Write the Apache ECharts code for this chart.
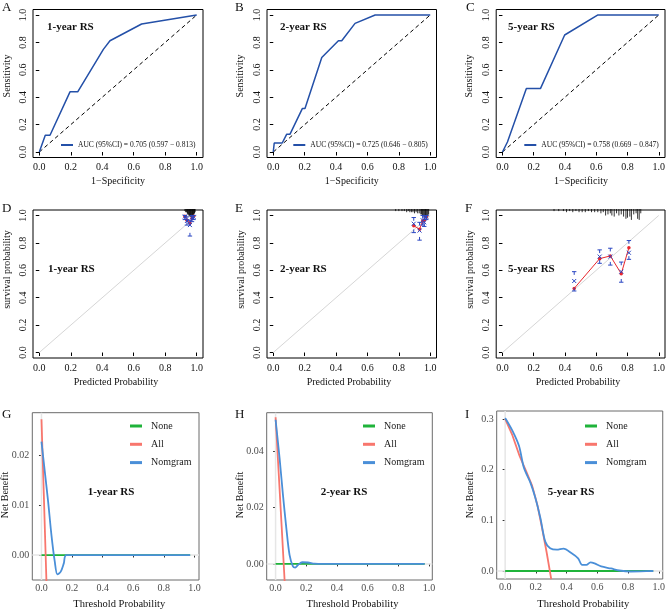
<!DOCTYPE html>
<html><head><meta charset="utf-8">
<script src="https://cdn.jsdelivr.net/npm/echarts@6/dist/echarts.min.js"></script>
<style>html,body{margin:0;padding:0;background:#fff}#c{width:668px;height:611px}</style>
</head><body><div id="c"></div>
<script>
// ---------- DATA ----------
const panelLetters = ['A','B','C','D','E','F','G','H','I'];
const panelTitles = ['1-year RS','2-year RS','5-year RS'];
const unitTicks = [0, 0.2, 0.4, 0.6, 0.8, 1.0];

// ROC curves (1-Specificity, Sensitivity)
const rocA_fpr = [0, 0.038, 0.068, 0.195, 0.244, 0.407, 0.449, 0.65, 1];
const rocA_tpr = [0, 0.122, 0.122, 0.439, 0.439, 0.749, 0.812, 0.934, 1];
const rocB_fpr = [0, 0.006, 0.057, 0.085, 0.106, 0.185, 0.202, 0.309, 0.415, 0.436, 0.521, 0.649, 1];
const rocB_tpr = [0, 0.066, 0.066, 0.129, 0.129, 0.317, 0.317, 0.69, 0.812, 0.812, 0.939, 1, 1];
const rocC_fpr = [0, 0.032, 0.153, 0.243, 0.398, 0.611, 1];
const rocC_tpr = [0, 0.073, 0.463, 0.463, 0.854, 1, 1];
const diagX = [0, 1];
const diagY = [0, 1];
const aucValue = [0.705, 0.725, 0.758];
const aucLower = [0.597, 0.646, 0.669];
const aucUpper = [0.813, 0.805, 0.847];

// Calibration (predicted, observed KM, CI low, CI high, apparent)
const calD_pred = [0.925, 0.938, 0.957, 0.970, 0.980];
const calD_obs  = [0.993, 0.960, 0.930, 0.985, 0.990];
const calD_lo   = [0.970, 0.930, 0.850, 0.955, 0.970];
const calD_hi   = [1.000, 0.990, 0.965, 1.000, 1.000];
const calD_app  = [0.995, 0.965, 0.945, 0.980, 0.995];
const calE_pred = [0.895, 0.932, 0.952, 0.962, 0.975];
const calE_obs  = [0.940, 0.890, 0.965, 0.950, 0.990];
const calE_lo   = [0.875, 0.820, 0.930, 0.920, 0.970];
const calE_hi   = [0.985, 0.950, 1.000, 0.990, 1.000];
const calE_app  = [0.925, 0.900, 0.960, 0.965, 0.990];
const calF_pred = [0.459, 0.622, 0.690, 0.760, 0.809];
const calF_obs  = [0.522, 0.700, 0.700, 0.590, 0.728];
const calF_lo   = [0.449, 0.651, 0.638, 0.513, 0.680];
const calF_hi   = [0.590, 0.749, 0.761, 0.660, 0.817];
const calF_app  = [0.468, 0.685, 0.705, 0.575, 0.765];

// risk distribution spikes (predicted probability, count)
const rugD_x = [0.925,0.93,0.935,0.94,0.943,0.946,0.95,0.953,0.956,0.96,0.963,0.966,0.97,0.973,0.976,0.98,0.983,0.986,0.99];
const rugD_n = [1,2,2,3,4,4,5,5,6,6,6,7,7,6,6,5,4,3,2];
const rugE_x = [0.78,0.8,0.82,0.835,0.85,0.86,0.87,0.88,0.89,0.9,0.91,0.92,0.93,0.94,0.945,0.95,0.955,0.96,0.965,0.97,0.975,0.98,0.985,0.99];
const rugE_n = [1,1,1,1,2,1,2,2,2,3,2,3,3,4,4,5,5,6,7,7,8,7,6,4];
const rugF_x = [0.33,0.36,0.39,0.41,0.43,0.45,0.47,0.49,0.51,0.53,0.55,0.57,0.59,0.61,0.63,0.645,0.66,0.675,0.69,0.7,0.715,0.73,0.745,0.76,0.775,0.79,0.8,0.815,0.825,0.84,0.855,0.865,0.875,0.885];
const rugF_n = [1,1,1,2,1,2,1,2,2,2,1,2,2,2,3,2,5,4,3,5,6,3,5,4,6,8,7,6,9,4,3,8,9,3];

// Decision curves
const dcaNames = ['None','All','Nomgram'];
const dcaG_thr  = [0, 0.0217, 0.0435, 0.0652, 0.087, 0.104, 0.126, 0.146, 0.163, 0.972];
const dcaG_nom  = [0.0227, 0.0167, 0.0107, 0.004, -0.00133, -0.00387, -0.00333, -0.00167, 0, 0];
const dcaG_allX = [0, 0.015, 0.03, 0.04];
const dcaG_all  = [0.0272, 0.0124, -0.0028, -0.013];
const dcaG_noneX = [0, 0.972];
const dcaG_none  = [0, 0];
const dcaH_thr  = [0, 0.026, 0.048, 0.07, 0.091, 0.113, 0.128, 0.146, 0.174, 0.211, 0.254, 0.309, 0.972];
const dcaH_nom  = [0.0511, 0.0375, 0.0245, 0.0127, 0.0032, -0.0009, -0.0013, -0.0004, 0.0006, 0.0005, 0.0001, 0, 0];
const dcaH_allX = [0, 0.02, 0.04, 0.06];
const dcaH_all  = [0.052, 0.0324, 0.0128, -0.0071];
const dcaH_noneX = [0, 0.972];
const dcaH_none  = [0, 0];
const dcaI_thr  = [0, 0.047, 0.09, 0.122, 0.165, 0.197, 0.229, 0.261, 0.293, 0.336, 0.379, 0.433, 0.475, 0.501, 0.529, 0.555, 0.582, 0.625, 0.689, 0.743, 0.818, 0.882, 0.964];
const dcaI_nom  = [0.302, 0.277, 0.247, 0.204, 0.174, 0.144, 0.105, 0.058, 0.045, 0.042, 0.044, 0.035, 0.025, 0.012, 0.012, 0.017, 0.015, 0.009, 0.005, 0.001, -0.001, -0.0007, 0];
const dcaI_allX = [0, 0.047, 0.094, 0.135, 0.176, 0.21, 0.24, 0.27, 0.3];
const dcaI_all  = [0.3, 0.268, 0.227, 0.198, 0.168, 0.13, 0.085, 0.037, -0.016];
const dcaI_noneX = [0, 0.964];
const dcaI_none  = [0, 0];
const nbTicksG = [0, 0.01, 0.02];
const nbTicksH = [0, 0.02, 0.04];
const nbTicksI = [0, 0.1, 0.2, 0.3];

// ---------- BUILD ----------
const serif = '"Liberation Serif","Times New Roman",serif';
const zip = (a, b) => a.map((v, i) => [v, b[i]]);
const rocBlue = '#2450a8', calBlue = '#2a46c2', calRed = '#e8262d';
const cGreen = '#1fb33a', cRed = '#f8766d', cBlue = '#4a8fd8';

const grids = [
  {left:33, top:9.5, width:170, height:148},
  {left:267, top:9.5, width:169.5, height:148},
  {left:496.2, top:9.5, width:169.5, height:148},
  {left:33, top:210, width:170, height:148},
  {left:267, top:210, width:169.5, height:148},
  {left:496.2, top:210, width:169.5, height:148},
  {left:32.3, top:412.7, width:166.7, height:167.3},
  {left:266.7, top:412.7, width:165.6, height:167.3},
  {left:496.7, top:411, width:168.3, height:168}
].map((g, i) => Object.assign(g, {show:true, borderWidth:1, borderColor: i < 6 ? '#000' : '#6b6b6b', backgroundColor:'transparent'}));

const xAxes = [], yAxes = [];
for (let i = 0; i < 6; i++) {
  xAxes.push({type:'value', gridIndex:i, min:-0.04, max:1.04, splitLine:{show:false}, axisLine:{show:false},
    axisTick:{show:true, length:3.5, customValues:unitTicks, lineStyle:{color:'#000'}},
    axisLabel:{customValues:unitTicks, formatter:v => v.toFixed(1), margin:5, fontFamily:serif, fontSize:10, color:'#111'}});
  yAxes.push({type:'value', gridIndex:i, min:-0.04, max:1.04, splitLine:{show:false}, axisLine:{show:false},
    axisTick:{show:true, length:3.5, customValues:unitTicks, lineStyle:{color:'#000'}},
    axisLabel:{customValues:unitTicks, formatter:v => v.toFixed(1), rotate:90, margin:5, fontFamily:serif, fontSize:10, color:'#111'}});
}
const dcaX = [[-0.06, 1.03], [-0.058, 1.022], [-0.055, 1.026]];
const dcaY = [[-0.005, 0.0285, nbTicksG, 2], [-0.0057, 0.0536, nbTicksH, 2], [-0.0158, 0.3158, nbTicksI, 1]];
for (let k = 0; k < 3; k++) {
  const i = 6 + k;
  xAxes.push({type:'value', gridIndex:i, min:dcaX[k][0], max:dcaX[k][1], splitLine:{show:false}, axisLine:{show:false},
    axisTick:{show:true, length:2.5, customValues:unitTicks, lineStyle:{color:'#333'}},
    axisLabel:{customValues:unitTicks, formatter:v => v.toFixed(1), margin:3, fontFamily:serif, fontSize:10, color:'#4d4d4d'}});
  const t = dcaY[k];
  yAxes.push({type:'value', gridIndex:i, min:t[0], max:t[1], splitLine:{show:false}, axisLine:{show:false},
    axisTick:{show:true, length:2.5, customValues:t[2], lineStyle:{color:'#333'}},
    axisLabel:{customValues:t[2], formatter:v => v.toFixed(t[3]), margin:3, fontFamily:serif, fontSize:10, color:'#4d4d4d'}});
}

const series = [];
const legends = [];
const rocSets = [[rocA_fpr, rocA_tpr], [rocB_fpr, rocB_tpr], [rocC_fpr, rocC_tpr]];
const rocLegendLeft = [61, 293.3, 524.3];
rocSets.forEach((r, i) => {
  const nm = 'AUC (95%CI) = ' + aucValue[i].toFixed(3) + ' (' + aucLower[i].toFixed(3) + ' \u2212 ' + aucUpper[i].toFixed(3) + ')';
  series.push({type:'line', xAxisIndex:i, yAxisIndex:i, data:zip(diagX, diagY), symbol:'none', silent:true,
    lineStyle:{color:'#000', width:1, type:[4,3]}, z:2});
  series.push({type:'line', name:nm, xAxisIndex:i, yAxisIndex:i, data:zip(r[0], r[1]), symbol:'none',
    lineStyle:{color:rocBlue, width:1.5}, itemStyle:{color:rocBlue}, z:3});
  legends.push({data:[nm], left:rocLegendLeft[i], top:140.5, padding:0, itemWidth:12, itemHeight:2, icon:'rect', selectedMode:false,
    textStyle:{fontFamily:serif, fontSize:7.5, color:'#111', lineHeight:9}});
});

const calSets = [
  [calD_pred, calD_obs, calD_lo, calD_hi, calD_app, rugD_x, rugD_n],
  [calE_pred, calE_obs, calE_lo, calE_hi, calE_app, rugE_x, rugE_n],
  [calF_pred, calF_obs, calF_lo, calF_hi, calF_app, rugF_x, rugF_n]
];
calSets.forEach((c, k) => {
  const i = 3 + k;
  series.push({type:'line', xAxisIndex:i, yAxisIndex:i, data:zip(diagX, diagY), symbol:'none', silent:true,
    lineStyle:{color:'#d6d6d6', width:1}, z:1});
  series.push({type:'custom', xAxisIndex:i, yAxisIndex:i, silent:true, z:2,
    data:zip(c[5], c[6]),
    renderItem:(params, api) => {
      const p = api.coord([api.value(0), 1.04]);
      return {type:'line', shape:{x1:p[0], y1:p[1] - 1, x2:p[0], y2:p[1] + api.value(1) * 1.1},
        style:{stroke:'#000', lineWidth:0.8}};
    }});
  series.push({type:'line', xAxisIndex:i, yAxisIndex:i, data:zip(c[0], c[4]), symbol:'circle', symbolSize:3.5,
    lineStyle:{color:calRed, width:1}, itemStyle:{color:calRed}, z:3});
  series.push({type:'custom', xAxisIndex:i, yAxisIndex:i, silent:true, z:4,
    data:c[0].map((v, j) => [v, c[1][j], c[2][j], c[3][j]]),
    renderItem:(params, api) => {
      const x = api.value(0);
      const pm = api.coord([x, api.value(1)]), pl = api.coord([x, api.value(2)]), ph = api.coord([x, api.value(3)]);
      const s = {stroke:calBlue, lineWidth:1};
      const L = (x1, y1, x2, y2) => ({type:'line', shape:{x1, y1, x2, y2}, style:s});
      return {type:'group', children:[
        L(ph[0] - 2.2, ph[1], ph[0] + 2.2, ph[1]), L(ph[0], ph[1], ph[0], ph[1] + 3.2),
        L(pl[0] - 2.2, pl[1], pl[0] + 2.2, pl[1]), L(pl[0], pl[1], pl[0], pl[1] - 3.2),
        L(pm[0] - 2, pm[1] - 2, pm[0] + 2, pm[1] + 2), L(pm[0] - 2, pm[1] + 2, pm[0] + 2, pm[1] - 2)
      ]};
    }});
});

const dcaSets = [
  [dcaG_noneX, dcaG_none, dcaG_allX, dcaG_all, dcaG_thr, dcaG_nom],
  [dcaH_noneX, dcaH_none, dcaH_allX, dcaH_all, dcaH_thr, dcaH_nom],
  [dcaI_noneX, dcaI_none, dcaI_allX, dcaI_all, dcaI_thr, dcaI_nom]
];
const dcaLegendLeft = [130, 363, 585];
dcaSets.forEach((d, k) => {
  const i = 6 + k;
  const refStyle = {color:'#e6e6e6', width:1.5};
  // reference lines at threshold 0 and net benefit 0 (drawn beneath the curves)
  series.push({type:'line', xAxisIndex:i, yAxisIndex:i, data:[[0, dcaY[k][0]], [0, dcaY[k][1]]], symbol:'none', silent:true, z:1, lineStyle:refStyle});
  series.push({type:'line', xAxisIndex:i, yAxisIndex:i, data:[[dcaX[k][0], 0], [dcaX[k][1], 0]], symbol:'none', silent:true, z:1, lineStyle:refStyle});
  series.push({type:'line', name:dcaNames[0], xAxisIndex:i, yAxisIndex:i, data:zip(d[0], d[1]), symbol:'none',
    lineStyle:{color:cGreen, width:1.8}, itemStyle:{color:cGreen}, z:2});
  series.push({type:'line', name:dcaNames[1], xAxisIndex:i, yAxisIndex:i, data:zip(d[2], d[3]), symbol:'none',
    lineStyle:{color:cRed, width:1.8}, itemStyle:{color:cRed}, z:3});
  series.push({type:'line', name:dcaNames[2], xAxisIndex:i, yAxisIndex:i, data:zip(d[4], d[5]), symbol:'none', smooth:0.3,
    lineStyle:{color:cBlue, width:1.8}, itemStyle:{color:cBlue}, z:4});
  legends.push({data:dcaNames, orient:'vertical', left:dcaLegendLeft[k], top:420, padding:0, itemWidth:12, itemHeight:3, itemGap:6.3,
    icon:'rect', selectedMode:false,
    textStyle:{fontFamily:serif, fontSize:10, color:'#1a1a1a', lineHeight:12, padding:[0,0,0,4]}});
});

// ---------- TEXT ----------
const T = (x, y, text, font, align, rot, fill) => ({type:'text', x, y, rotation:rot || 0, silent:true,
  style:{text, font, fill: fill || '#111', align: align || 'left', textAlign: align || 'left', verticalAlign:'middle', textVerticalAlign:'middle'}});
const fLetter = '13px ' + serif, fTitle = 'bold 11px ' + serif, fAxis = '10px ' + serif;
const letterPos = [[2,8],[235,8],[466,8],[2,209],[235,209],[465,209],[2,415],[235,415],[465,415]];
const graphics = [];
panelLetters.forEach((l, i) => graphics.push(T(letterPos[i][0], letterPos[i][1], l, fLetter)));
const titleLeft = [[47,27],[280,27],[508,27],[48,269],[280,269],[508,269]];
titleLeft.forEach((p, i) => graphics.push(T(p[0], p[1], panelTitles[i % 3], fTitle)));
[[111,491.7],[344,491.7],[571,491.7]].forEach((p, k) => graphics.push(T(p[0], p[1], panelTitles[k], fTitle, 'center')));
const colX1 = [118, 351.7, 581], colY1 = [7.5, 240.7, 469];
colX1.forEach(x => graphics.push(T(x, 181, '1\u2212Specificity', fAxis, 'center')));
colY1.forEach(x => graphics.push(T(x, 76, 'Sensitivity', fAxis, 'center', Math.PI / 2)));
[116, 349, 578].forEach(x => graphics.push(T(x, 382, 'Predicted Probability', fAxis, 'center')));
[7.3, 241, 470].forEach(x => graphics.push(T(x, 269.5, 'survival probability', fAxis, 'center', Math.PI / 2)));
[119.3, 352.5, 583.3].forEach(x => graphics.push(T(x, 604.3, 'Threshold Probability', '10.5px ' + serif, 'center')));
[5, 240, 470].forEach(x => graphics.push(T(x, 495, 'Net Benefit', fAxis, 'center', Math.PI / 2)));

const chart = echarts.init(document.getElementById('c'), null, {renderer:'canvas'});
chart.setOption({
  backgroundColor:'#fff', animation:false,
  grid:grids, xAxis:xAxes, yAxis:yAxes, series, legend:legends, graphic:graphics
});
</script></body></html>
